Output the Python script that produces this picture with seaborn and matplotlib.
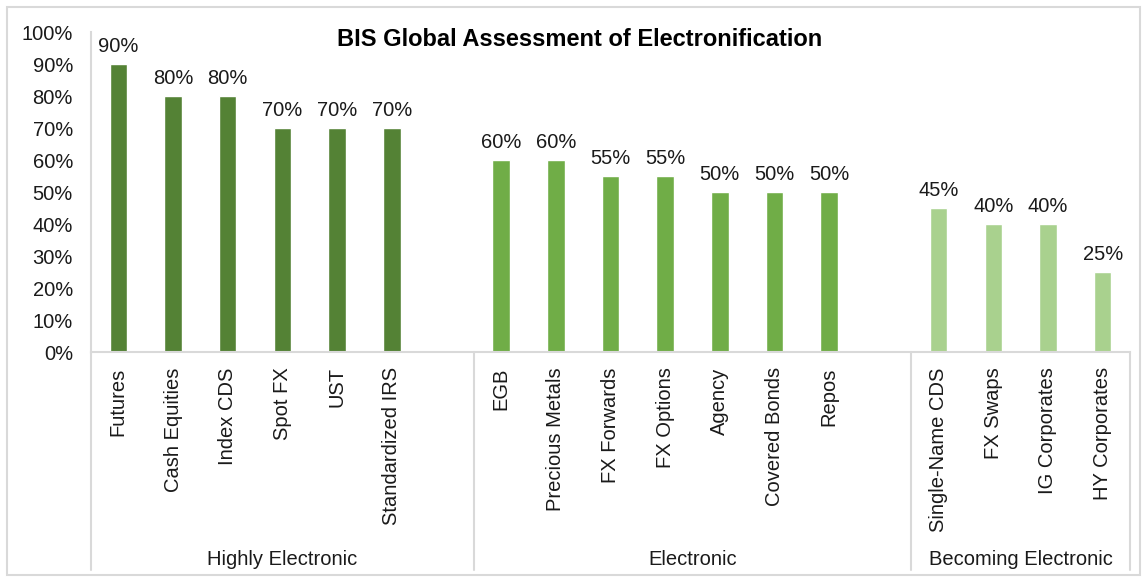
import seaborn as sns
import matplotlib.pyplot as plt
import pandas as pd
from matplotlib.patches import Rectangle
from matplotlib.ticker import PercentFormatter
import matplotlib.transforms as mtransforms

# --- data -------------------------------------------------------------
groups = ["Highly Electronic", "Electronic", "Becoming Electronic"]
highly = ["Futures", "Cash Equities", "Index CDS", "Spot FX", "UST", "Standardized IRS"]
highly_vals = [0.90, 0.80, 0.80, 0.70, 0.70, 0.70]
electronic = ["EGB", "Precious Metals", "FX Forwards", "FX Options", "Agency",
              "Covered Bonds", "Repos"]
electronic_vals = [0.60, 0.60, 0.55, 0.55, 0.50, 0.50, 0.50]
becoming = ["Single-Name CDS", "FX Swaps", "IG Corporates", "HY Corporates"]
becoming_vals = [0.45, 0.40, 0.40, 0.25]
colors = ["#548235", "#70AD47", "#A9D18E"]

# one empty slot after each group, like the blank categories in the original
rows = []
pos = 0
bounds = [-0.5]
for g, names, vals in zip(groups, [highly, electronic, becoming],
                          [highly_vals, electronic_vals, becoming_vals]):
    for n, v in zip(names, vals):
        rows.append({"pos": pos, "name": n, "value": v, "group": g})
        pos += 1
    pos += 1
    bounds.append(pos - 0.5)
bounds[-1] = pos - 1.5
df = pd.DataFrame(rows)

sns.set_theme(style="white")
plt.rcParams["font.family"] = ["Liberation Sans", "DejaVu Sans"]
txt = "#1a1a1a"
fs = 14.5

fig = plt.figure(figsize=(11.43, 5.78), dpi=100)
ax = fig.add_axes([91 / 1143, 1 - 352 / 578, (1130 - 91) / 1143, 320 / 578])

sns.barplot(data=df, x="pos", y="value", hue="group", palette=colors,
            hue_order=groups, native_scale=True, width=0.32, dodge=False,
            legend=False, ax=ax, saturation=1)

for c in ax.containers:
    ax.bar_label(c, labels=[f"{b.get_height():.0%}" for b in c], padding=6,
                 fontsize=fs, color=txt)

ax.set_xlim(bounds[0], bounds[-1])
ax.set_ylim(0, 1)
ax.set_yticks([i / 10 for i in range(11)])
ax.yaxis.set_major_formatter(PercentFormatter(1.0, decimals=0))
ax.set_xticks(df["pos"])
ax.set_xticklabels(df["name"], rotation=90, ha="center", va="top")
ax.tick_params(axis="both", length=0, labelsize=fs, labelcolor=txt)
ax.tick_params(axis="y", pad=13)
ax.tick_params(axis="x", pad=11)
ax.set_xlabel("")
ax.set_ylabel("")
for s in ["top", "right"]:
    ax.spines[s].set_visible(False)
for s in ["left", "bottom"]:
    ax.spines[s].set_color("#D9D9D9")
    ax.spines[s].set_linewidth(1.5)

# group dividers and labels under the axis
trans = mtransforms.blended_transform_factory(ax.transData, ax.transAxes)
for b in bounds:
    ax.plot([b, b], [0, -0.68], transform=trans, color="#D9D9D9", lw=1.5,
            clip_on=False)
for g, a, b in zip(groups, bounds[:-1], bounds[1:]):
    ax.text((a + b) / 2, -0.648, g, transform=trans, ha="center", va="center",
            fontsize=fs, color=txt)

fig.text(580 / 1143, 1 - 40 / 578, "BIS Global Assessment of Electronification",
         ha="center", va="center", fontsize=17, fontweight="bold", color="#000000")

fig.patches.append(Rectangle((7 / 1143, 3 / 578), 1133 / 1143, 568 / 578,
                             transform=fig.transFigure, fill=False,
                             edgecolor="#D9D9D9", lw=1.5))

fig.savefig("out.png", dpi=100)
